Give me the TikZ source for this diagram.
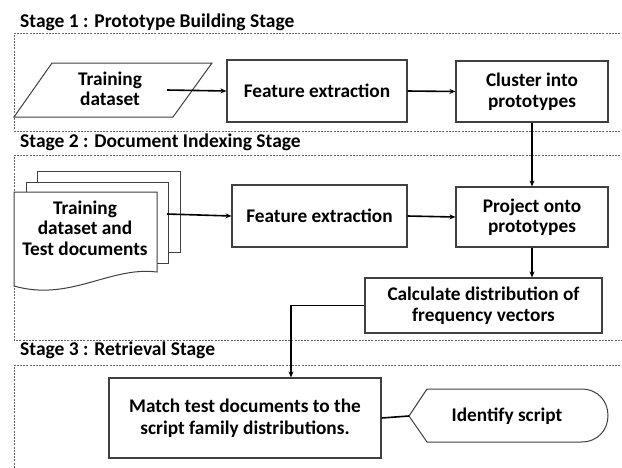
\documentclass[tikz,border=0pt]{standalone}
\usepackage{fontspec}
\setmainfont{Carlito}
\usetikzlibrary{arrows.meta,calc}
\begin{document}
\begin{tikzpicture}[x=1pt,y=-1pt,
  stagebox/.style={draw=black!60, line width=0.8pt, dash pattern=on 2pt off 1.2pt},
  title/.style={anchor=base west, font=\fontsize{19.5}{22}\selectfont\bfseries, inner sep=0},
  box/.style={draw=black!75, line width=1.2pt, fill=white, align=center, inner sep=0,
    font=\fontsize{19.3}{20.5}\selectfont\bfseries},
  txt/.style={align=center, inner sep=0, font=\fontsize{19.3}{20.5}\selectfont\bfseries},
  shp/.style={draw=black!75, line width=1pt, fill=white},
  arr/.style={line width=1.6pt, -{Stealth[length=6pt,width=5pt]}},
  lin/.style={line width=1.6pt}]
\useasboundingbox (0,0) rectangle (622,467);
% stage frames
\draw[stagebox] (630,33) -- (14,33) -- (14,131) -- (630,131);
\draw[stagebox] (630,155) -- (14,155) -- (14,340) -- (630,340);
\draw[stagebox] (630,365) -- (14,365) -- (14,470);
% titles
\node[title] (t1) at (20,27) {Stage 1 : Prototype Building Stage};
\node[title] (t2) at (20,147) {Stage 2 : Document Indexing Stage};
\node[title] (t3) at (20,355) {Stage 3 : Retrieval Stage};
% stage 1
\draw[shp] (14,117) -- (52,63) -- (212,63) -- (173,117) -- cycle;
\node[txt] (train) at (110,89) {Training\\dataset};
\node[box, minimum width=180pt, minimum height=62pt] (fe1) at (317,91) {Feature extraction};
\node[box, minimum width=152pt, minimum height=61pt] (cl) at (532,91.5) {Cluster into\\prototypes};
\coordinate (s1) at (167,90);
\draw[arr] (s1) -- (fe1.west);
\draw[arr] (fe1.east) -- (cl.west);
% stage 2
\draw[shp] (37,171) rectangle (180,252);
\draw[shp] (26,182) rectangle (168,263);
\draw[shp] (14,192) -- (157,192) -- (157,272) .. controls (110,266) and (70,302) .. (14,286) -- cycle;
\node[txt] (docs) at (85,228) {Training\\dataset and\\Test documents};
\node[box, minimum width=175pt, minimum height=62pt] (fe2) at (319.5,216) {Feature extraction};
\node[box, minimum width=152pt, minimum height=60pt] (pr) at (532,217) {Project onto\\prototypes};
\node[box, minimum width=237pt, minimum height=55pt] (calc) at (483.5,305.5) {Calculate distribution of\\frequency vectors};
\coordinate (s2) at (167,214);
\draw[arr] (s2) -- (fe2.west);
\draw[arr] (fe2.east) -- (pr.west);
\draw[arr] (cl.south) -- (pr.north);
\draw[arr] (pr.south) -- (pr.south |- calc.north);
% stage 3
\node[box, minimum width=272pt, minimum height=80pt, font=\fontsize{19.3}{22}\selectfont\bfseries] (match) at (245,418) {Match test documents to the\\script family distributions.};
\coordinate (mx) at (291,0);
\draw[arr] (calc.west) -| (match.north -| mx);
\draw[shp] (409,416) -- (427,389) -- (581,389) .. controls (617,389) and (617,442) .. (581,442) -- (427,442) -- cycle;
\coordinate (idl) at (409,416);
\node[txt] (id) at (507,416) {Identify script};
\draw[lin] (match.east) -- (idl);
\end{tikzpicture}
\end{document}
